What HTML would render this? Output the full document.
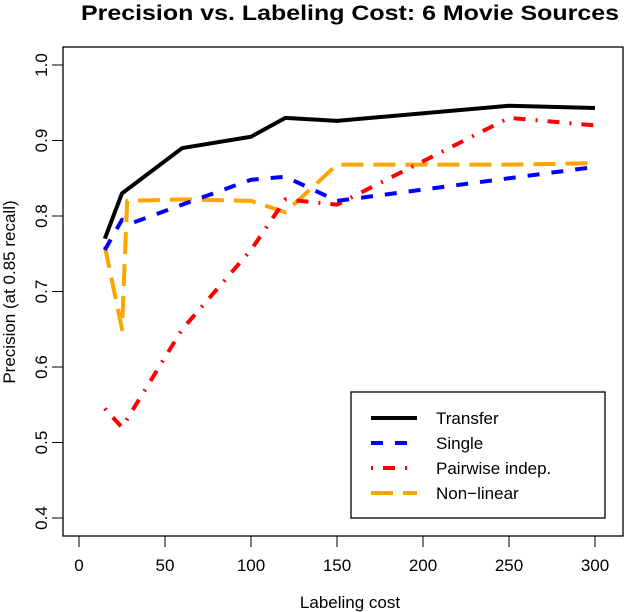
<!DOCTYPE html>
<html><head><meta charset="utf-8"><style>body{margin:0;background:#fff}svg{display:block;font-family:"Liberation Sans",sans-serif}</style></head>
<body>
<svg id="c" width="624" height="612">
<text x="350" y="20" text-anchor="middle" font-size="21" font-weight="bold" textLength="538" lengthAdjust="spacingAndGlyphs">Precision vs. Labeling Cost: 6 Movie Sources</text>
<rect x="63" y="47" width="560" height="489" fill="none" stroke="#000" stroke-width="1.3"/>
<text x="350" y="608" text-anchor="middle" font-size="17">Labeling cost</text>
<text transform="translate(15,292) rotate(-90)" text-anchor="middle" font-size="17">Precision (at 0.85 recall)</text>
<g id="axes"></g><g id="series"></g>
<g>
<rect x="351" y="392" width="254" height="126" fill="#fff" stroke="#000" stroke-width="1.3"/>
<line x1="371" y1="418" x2="417" y2="418" stroke="#000" stroke-width="4"/>
<text x="436" y="424" font-size="17">Transfer</text>
<line x1="371" y1="443" x2="417" y2="443" stroke="#00f" stroke-width="4" stroke-dasharray="12,12"/>
<text x="436" y="449" font-size="17">Single</text>
<line x1="371" y1="468" x2="417" y2="468" stroke="#f00" stroke-width="4" stroke-dasharray="2,10,12,10"/>
<text x="436" y="474" font-size="17">Pairwise indep.</text>
<line x1="371" y1="493" x2="417" y2="493" stroke="#ffa500" stroke-width="4" stroke-dasharray="22,10"/>
<text x="436" y="499" font-size="17">Non−linear</text>
</g>
</svg>
<script>
const xTicks=[0,50,100,150,200,250,300];
const yTicks=[0.4,0.5,0.6,0.7,0.8,0.9,1.0];
const transferX=[15,25,60,100,120,150,250,300];
const transferY=[0.77,0.83,0.89,0.905,0.93,0.926,0.946,0.943];
const singleX=[15,25,30,60,100,120,150,250,300];
const singleY=[0.755,0.795,0.79,0.815,0.848,0.852,0.82,0.85,0.865];
const pairX=[15,25,60,100,120,150,250,300];
const pairY=[0.545,0.52,0.65,0.755,0.822,0.815,0.93,0.92];
const nonX=[15,25,28,60,100,120,150,250,300];
const nonY=[0.76,0.65,0.82,0.822,0.82,0.805,0.868,0.868,0.87];
const NS='http://www.w3.org/2000/svg';
const sx=v=>79+v*(516/300);
const sy=v=>518-(v-0.4)*(453/0.6);
const ax=document.getElementById('axes');
function mk(t,a,p){const e=document.createElementNS(NS,t);for(const k in a)e.setAttribute(k,a[k]);p.appendChild(e);return e;}
const xa=mk('line',{x1:sx(0),x2:sx(300),y1:536,y2:536,stroke:'#000'},ax);


xTicks.forEach(t=>{
  mk('line',{x1:sx(t),x2:sx(t),y1:536,y2:547,stroke:'#000'},ax);
  const e=mk('text',{x:sx(t),y:571,'text-anchor':'middle','font-size':17},ax);e.textContent=t;
  
  
});
yTicks.forEach(t=>{
  mk('line',{x1:52,x2:63,y1:sy(t),y2:sy(t),stroke:'#000'},ax);
  const e=mk('text',{transform:`translate(47,${sy(t)}) rotate(-90)`,'text-anchor':'middle','font-size':17},ax);e.textContent=t.toFixed(1);
  
  
});
const sg=document.getElementById('series');
function line(xs,ys,col,dash,name){
  const p=mk('polyline',{points:xs.map((x,i)=>sx(x)+','+sy(ys[i])).join(' '),fill:'none',stroke:col,'stroke-width':4,'stroke-dasharray':dash,'stroke-linejoin':'round'},sg);
  
  
}
line(nonX,nonY,'#ffa500','22,10','nonlinear-line');
line(pairX,pairY,'#f00','2,10,12,10','pairwise-line');
line(singleX,singleY,'#00f','12,12','single-line');
line(transferX,transferY,'#000','none','transfer-line');
</script>
</body></html>
